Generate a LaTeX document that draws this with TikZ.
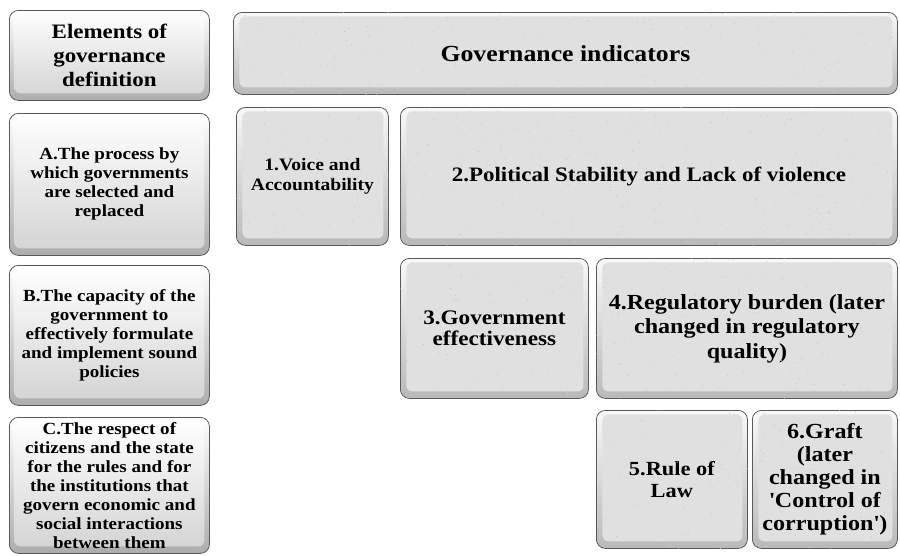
\documentclass[tikz,border=0pt]{standalone}
\usepackage{fontspec}
\setmainfont{Liberation Serif}[FakeStretch=1.12]

\begin{document}
\begin{tikzpicture}[x=1pt,y=-1pt,
	box/.style={rounded corners=9pt,draw=gray!70!black,line width=0.8pt,
		inner sep=2pt,align=center,anchor=north west},
	% grey-white buttons on the left
	defbox/.style={box,top color=white,bottom color=gray!65,
		path picture={\shade[top color=white,bottom color=gray!35,rounded corners=6pt]
			([xshift=5pt,yshift=-4pt]path picture bounding box.north west) rectangle
			([xshift=-5pt,yshift=7pt]path picture bounding box.south east);},
		font=\bfseries\fontsize{17}{19}\selectfont},
	% stone-grey indicator tiles
	indbox/.style={box,top color=gray!5,bottom color=gray!55,
		path picture={\fill[gray!24,rounded corners=6pt]
			([xshift=6pt,yshift=-4pt]path picture bounding box.north west) rectangle
			([xshift=-5pt,yshift=7pt]path picture bounding box.south east);},
		font=\bfseries\fontsize{20.5}{24.5}\selectfont}]

	\useasboundingbox (0,0) rectangle (900,555);

	% Left column: elements of the definition
	\node[defbox,minimum width=200pt,minimum height=90pt,font=\bfseries\fontsize{20.5}{24}\selectfont]
		(elem) at (9,10) {Elements of\\governance\\definition};
	\node[defbox,minimum width=200pt,minimum height=142pt] (defA) at (9,113)
		{A.The process by\\which governments\\are selected and\\replaced};
	\node[defbox,minimum width=200pt,minimum height=140pt] (defB) at (9,265)
		{B.The capacity of the\\government to\\effectively formulate\\and implement sound\\policies};
	\node[defbox,minimum width=200pt,minimum height=136pt] (defC) at (9,417)
		{C.The respect of\\citizens and the state\\for the rules and for\\the institutions that\\govern economic and\\social interactions\\between them};

	% Right part: the indicators
	\node[indbox,minimum width=664pt,minimum height=82pt,font=\bfseries\fontsize{23}{26}\selectfont]
		(ind) at (233,12) {Governance indicators};

	\node[indbox,minimum width=152pt,minimum height=138pt,font=\bfseries\fontsize{17.5}{19.5}\selectfont]
		(ind1) at (236,107) {1.Voice and\\Accountability};
	\node[indbox,minimum width=497pt,minimum height=138pt] (ind2) at (400,107)
		{2.Political Stability and Lack of violence};

	\node[indbox,minimum width=188pt,minimum height=140pt,font=\bfseries\fontsize{20.7}{21.5}\selectfont]
		(ind3) at (400,258) {3.Government\\effectiveness};
	\node[indbox,minimum width=301pt,minimum height=140pt,font=\bfseries\fontsize{21.5}{24.5}\selectfont]
		(ind4) at (596,258) {4.Regulatory burden (later\\changed in regulatory\\quality)};

	\node[indbox,minimum width=151pt,minimum height=138pt,font=\bfseries\fontsize{20}{22}\selectfont]
		(ind5) at (596,410) {5.Rule of\\Law};
	\node[indbox,minimum width=145pt,minimum height=138pt,font=\bfseries\fontsize{21.5}{23}\selectfont]
		(ind6) at (752,410) {6.Graft\\(later\\changed in\\\textquotesingle Control of\\corruption\textquotesingle)};

	% speckled stone texture on the tiles
	\pgfmathsetseed{11}
	\begin{scope}
		\clip[rounded corners=9pt] (ind.north west) rectangle (ind.south east)
			(ind1.north west) rectangle (ind1.south east)
			(ind2.north west) rectangle (ind2.south east)
			(ind3.north west) rectangle (ind3.south east)
			(ind4.north west) rectangle (ind4.south east)
			(ind5.north west) rectangle (ind5.south east)
			(ind6.north west) rectangle (ind6.south east);
		\foreach \k in {1,...,1600}
			\fill[gray!50] (233+664*rnd,12+540*rnd) circle[radius=0.45pt];
		\foreach \k in {1,...,600}
			\fill[white!80!gray] (233+664*rnd,12+540*rnd) circle[radius=0.5pt];
	\end{scope}

\end{tikzpicture}
\end{document}
